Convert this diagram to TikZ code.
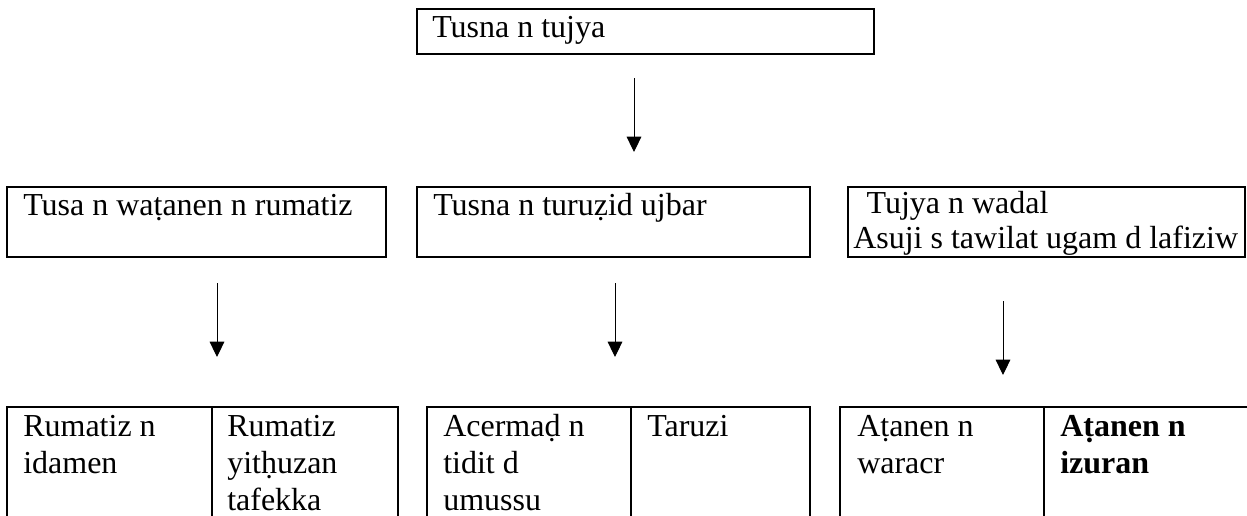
\documentclass[tikz,border=0pt]{standalone}
\usepackage{fontspec}
\setmainfont{Liberation Serif}
\usetikzlibrary{arrows.meta,fit}

% lines of a box, baseline on the first line
\newcommand\boxlines[1]{\begin{tabular}[t]{@{}l@{}}#1\end{tabular}}

\tikzset{
  box/.style={draw, line width=1.5pt, inner sep=0pt},
  txt/.style={inner sep=0pt, anchor=base west, font=\fontsize{24}{27.75}\selectfont},
  arr/.style={line width=0.75pt, -{Triangle[length=11.5pt,width=11pt]}}
}

\begin{document}
\begin{tikzpicture}[x=0.75pt,y=0.75pt,yscale=-1,xscale=1]
\useasboundingbox (0,0) rectangle (1247,515);

% Text Node
\node[box, fit={(417,9) (874,54)}] (top) {};
\node[txt] (toptxt) at (432,37) {Tusna n tujya};

% Text Node
\node[box, fit={(7,187) (386,257)}] (mid1) {};
\node[txt] (mid1txt) at (23,215) {Tusa n waṭanen n rumatiz};
% Text Node
\node[box, fit={(417,187) (810,257)}] (mid2) {};
\node[txt] (mid2txt) at (433,215) {Tusna n turuẓid ujbar};
% Text Node
\node[box, fit={(848,187) (1245,257)}] (mid3) {};
\node[txt, font=\fontsize{24}{26.25}\selectfont] (mid3txt) at (853,213) {\boxlines{\hspace*{10pt}Tujya n wadal\\Asuji s tawilat ugam d lafiziw}};

% Text Node
\node[box, fit={(7,407) (212,530)}] (cell1) {};
\node[txt] (cell1txt) at (23,436) {\boxlines{Rumatiz n\\idamen}};
\node[box, fit={(212,407) (398,530)}] (cell2) {};
\node[txt] (cell2txt) at (227,436) {\boxlines{Rumatiz\\yitḥuzan\\tafekka}};
% Text Node
\node[box, fit={(427,407) (631,530)}] (cell3) {};
\node[txt] (cell3txt) at (443,436) {\boxlines{Acermaḍ n\\tidit d\\umussu}};
\node[box, fit={(631,407) (810,530)}] (cell4) {};
\node[txt] (cell4txt) at (647,436) {Taruzi};
% Text Node
\node[box, fit={(840,407) (1044,530)}] (cell5) {};
\node[txt] (cell5txt) at (857,436) {\boxlines{Aṭanen n\\waracr}};
\node[box, fit={(1044,407) (1250,530)}] (cell6) {};
\node[txt, font=\fontsize{24}{27.75}\selectfont\bfseries] (cell6txt) at (1060,436) {\boxlines{Aṭanen n\\izuran}};

% Connection
\coordinate (a0s) at (634,78);
\coordinate (a0e) at (634,152);
\draw[arr] (a0s) -- (a0e);
% Connection
\coordinate (a1s) at (217,283);
\coordinate (a1e) at (217,357);
\draw[arr] (a1s) -- (a1e);
% Connection
\coordinate (a2s) at (615,283);
\coordinate (a2e) at (615,357);
\draw[arr] (a2s) -- (a2e);
% Connection
\coordinate (a3s) at (1003,301);
\coordinate (a3e) at (1003,375);
\draw[arr] (a3s) -- (a3e);

\end{tikzpicture}
\end{document}
